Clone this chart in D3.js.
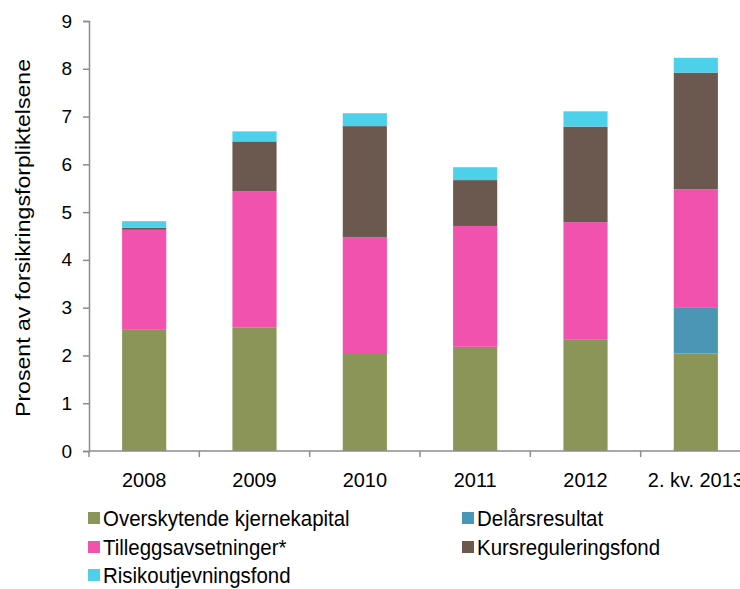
<!DOCTYPE html>
<meta charset="utf-8">
<style>
  body { margin: 0; background: #fff; }
  text { font-family: "Liberation Sans", Arial, sans-serif; fill: #000; }
</style>
<body>
<script src="https://d3js.org/d3.v7.min.js"></script>
<script>
// categories and series (percent of insurance liabilities)
var years = ["2008", "2009", "2010", "2011", "2012", "2. kv. 2013"];
var overskytende = [2.55, 2.58, 2.03, 2.18, 2.34, 2.04];
var delarsresultat = [0, 0, 0, 0, 0, 0.97];
var tillegg = [2.08, 2.86, 2.45, 2.53, 2.45, 2.47];
var kursreg = [0.04, 1.04, 2.32, 0.96, 2.00, 2.44];
var risiko = [0.14, 0.21, 0.27, 0.27, 0.32, 0.31];
var yTicks = [0, 1, 2, 3, 4, 5, 6, 7, 8, 9];

var seriesNames = ["Overskytende kjernekapital", "Delårsresultat", "Tilleggsavsetninger*", "Kursreguleringsfond", "Risikoutjevningsfond"];
var seriesColors = ["#8a9557", "#4a96b4", "#f052ae", "#6b5950", "#4dd0ea"];
var seriesVals = [overskytende, delarsresultat, tillegg, kursreg, risiko];

var rows = years.map(function(y, i) {
  var r = {year: y};
  seriesNames.forEach(function(n, j) { r[n] = seriesVals[j][i]; });
  return r;
});

var W = 740, H = 589;
var margin = {top: 21, left: 89};
var height = 430;
var plotW = 662; // runs past the right edge, as in the original

var svg = d3.select("body").append("svg")
  .attr("width", W).attr("height", H);

var g = svg.append("g")
  .attr("transform", "translate(" + margin.left + "," + margin.top + ")");

var x = d3.scaleBand().domain(years).range([0, plotW]).paddingInner(0.6).paddingOuter(0.3);
var y = d3.scaleLinear().domain([0, 9]).range([height, 0]);

var layers = d3.stack().keys(seriesNames)(rows);

g.selectAll("g.layer")
  .data(layers)
  .enter().append("g")
  .attr("class", "layer")
  .attr("fill", function(d, i) { return seriesColors[i]; })
  .selectAll("rect")
  .data(function(d) { return d; })
  .enter().append("rect")
  .attr("x", function(d) { return x(d.data.year); })
  .attr("width", x.bandwidth())
  .attr("y", function(d) { return y(d[1]); })
  .attr("height", function(d) { return y(d[0]) - y(d[1]); });

// y axis
var yAxis = g.append("g")
  .call(d3.axisLeft(y).tickValues(yTicks).tickSize(6).tickPadding(11).tickFormat(d3.format("d")));
yAxis.select(".domain").attr("stroke", "#8c8c8c").attr("stroke-width", 1.5);
yAxis.selectAll(".tick line").attr("stroke", "#8c8c8c").attr("stroke-width", 1.5);
yAxis.selectAll(".tick text").style("font-size", "19px").attr("fill", "#000");

// x axis, ticks on category boundaries
var xAxis = g.append("g").attr("transform", "translate(0," + height + ")");
xAxis.append("line").attr("x1", 0).attr("x2", plotW)
  .attr("stroke", "#8c8c8c").attr("stroke-width", 1.5);
xAxis.selectAll("line.b")
  .data(d3.range(years.length + 1))
  .enter().append("line")
  .attr("class", "b")
  .attr("x1", function(i) { return i * plotW / years.length; })
  .attr("x2", function(i) { return i * plotW / years.length; })
  .attr("y1", 0).attr("y2", 6)
  .attr("stroke", "#8c8c8c").attr("stroke-width", 1.5);
xAxis.selectAll("text")
  .data(years)
  .enter().append("text")
  .attr("transform", function(d) { return "translate(" + (x(d) + x.bandwidth() / 2) + ",36) scale(0.95,1)"; })
  .attr("text-anchor", "middle")
  .style("font-size", "21px")
  .text(function(d) { return d; });

// y title
svg.append("text")
  .attr("transform", "translate(30,238) rotate(-90)")
  .attr("text-anchor", "middle")
  .attr("textLength", 358)
  .attr("lengthAdjust", "spacingAndGlyphs")
  .style("font-size", "20px")
  .text("Prosent av forsikringsforpliktelsene");

// legend
var legendPos = [[88, 526], [462, 526], [88, 555], [462, 555], [88, 583]];
var lg = svg.selectAll("g.legend")
  .data(seriesNames)
  .enter().append("g")
  .attr("class", "legend")
  .attr("transform", function(d, i) { return "translate(" + legendPos[i][0] + "," + legendPos[i][1] + ")"; });
lg.append("rect")
  .attr("x", 0).attr("y", -14).attr("width", 12).attr("height", 12)
  .attr("fill", function(d, i) { return seriesColors[i]; });
lg.append("text")
  .attr("transform", "translate(15,0) scale(0.93,1)")
  .style("font-size", "22px")
  .text(function(d) { return d; });
</script>
</body>
